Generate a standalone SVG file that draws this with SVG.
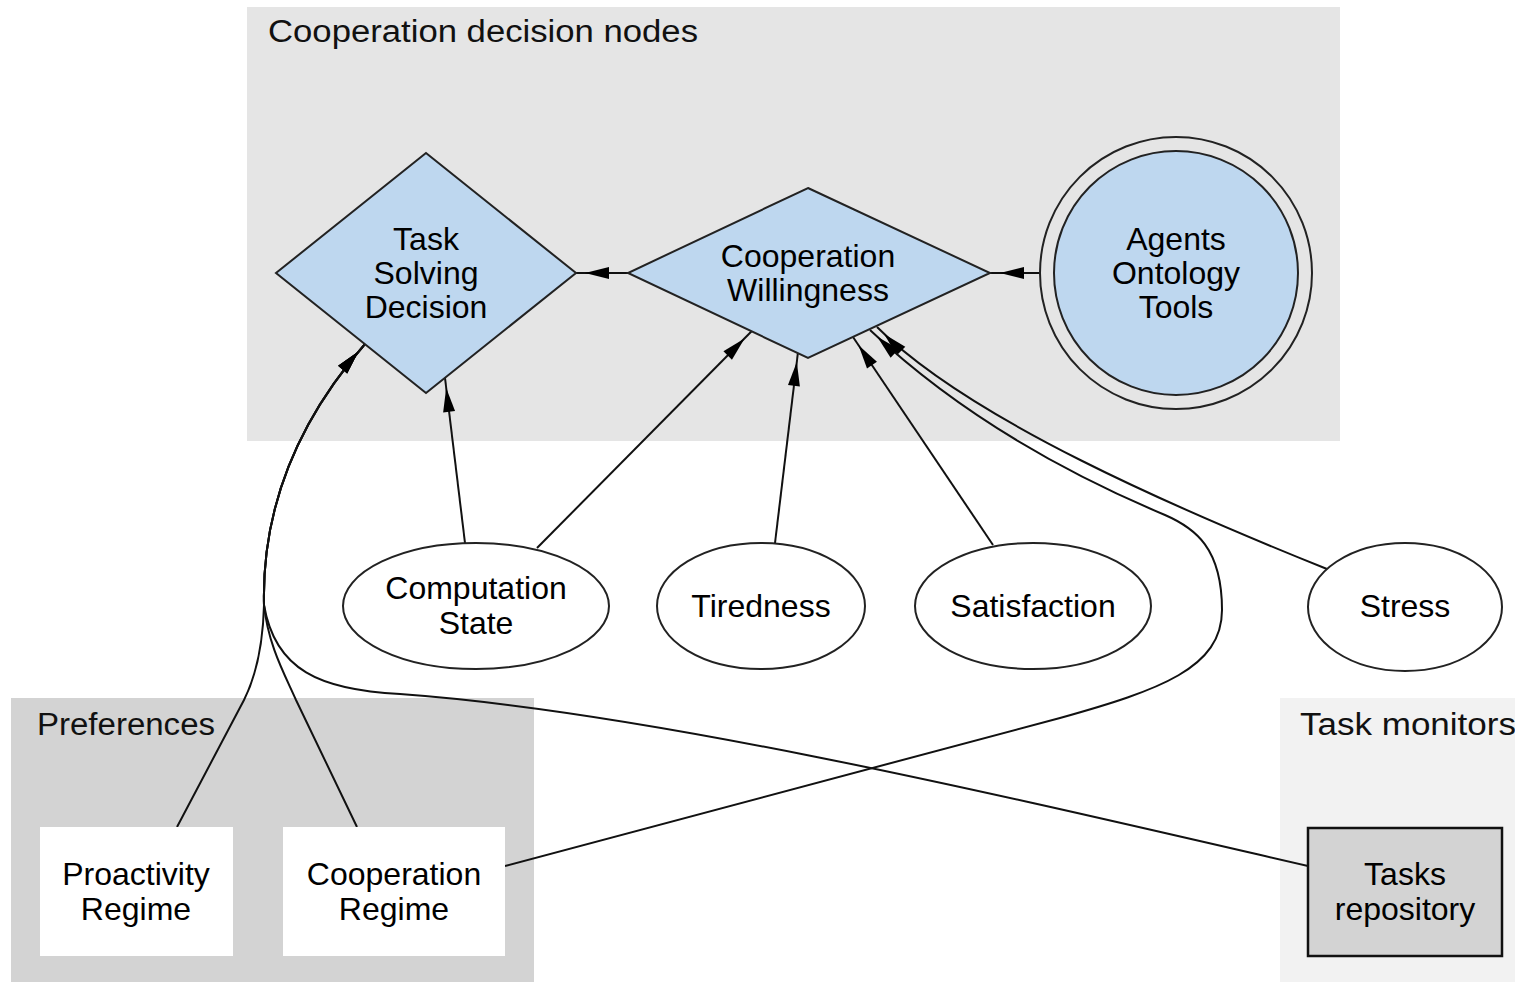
<svg xmlns="http://www.w3.org/2000/svg" width="1515" height="982" viewBox="0 0 1515 982">
  <style>
    .lbl { font-family: "Liberation Sans", Arial, sans-serif; font-size: 32px; fill: #000; text-anchor: middle; }
    .clbl { font-family: "Liberation Sans", Arial, sans-serif; font-size: 31px; fill: #111; }
    .dec { fill: #bed7ef; stroke: #222; stroke-width: 2; }
    .ell { fill: #fff; stroke: #222; stroke-width: 2; }
    .edge { fill: none; stroke: #111; stroke-width: 2; marker-end: url(#ah); }
  </style>
  <defs>
    <marker id="ah" viewBox="0 0 24 12" refX="34" refY="6" markerWidth="24" markerHeight="12" markerUnits="userSpaceOnUse" orient="auto" overflow="visible">
      <path d="M0,0 L24,6 L0,12 z" fill="#000"/>
    </marker>
  </defs>
  <rect width="1515" height="982" fill="#fff"/>

  <!-- clusters -->
  <g id="cluster-decision">
    <rect x="247" y="7" width="1093" height="434" fill="#e5e5e5"/>
    <text class="clbl" x="268" y="42" textLength="430" lengthAdjust="spacingAndGlyphs">Cooperation decision nodes</text>
  </g>
  <g id="cluster-preferences">
    <rect x="11" y="698" width="523" height="284" fill="#d3d3d3"/>
    <text class="clbl" x="37" y="735" textLength="178" lengthAdjust="spacingAndGlyphs">Preferences</text>
  </g>
  <g id="cluster-monitors">
    <rect x="1280" y="698" width="235" height="284" fill="#f2f2f2"/>
    <text class="clbl" x="1300" y="735" textLength="216" lengthAdjust="spacingAndGlyphs">Task monitors</text>
  </g>

  <!-- connectors -->
  <g id="edges">
    <path class="edge" d="M628,273 L575,273"/>
    <path class="edge" d="M1040,273 L990,273"/>
    <path class="edge" d="M465,543 L445,378"/>
    <path class="edge" d="M537,548 L751.6,331.3"/>
    <path class="edge" d="M775,543 L798,352"/>
    <path class="edge" d="M993,545 L853,337"/>
    <path class="edge" d="M1327,569 C1180,510 970,420 877,327"/>
    <path class="edge" d="M505,866 L1060,718 C1160,690 1222,668 1222,610 C1222,548 1195,528 1165,515 C1070,475 960,415 870,330"/>
    <path class="edge" d="M177,827 L244,700 C255,678 263,645 264,605 C262,520 290,430 365,344"/>
    <path class="edge" d="M357,827 L296,700 C285,675 268,645 264,605 C262,520 290,430 365,344"/>
    <path class="edge" d="M1308,866 C1000,795 650,712 400,694 C320,690 275,670 264,605 C262,520 290,430 365,344"/>
  </g>

  <!-- decision nodes -->
  <g id="task-solving-decision">
    <polygon class="dec" points="426,153 576,273 426,393 276,273"/>
    <text class="lbl" x="426" y="250">Task</text>
    <text class="lbl" x="426" y="284">Solving</text>
    <text class="lbl" x="426" y="318">Decision</text>
  </g>
  <g id="cooperation-willingness">
    <polygon class="dec" points="808,188 990,273 808,358 628,273"/>
    <text class="lbl" x="808" y="267">Cooperation</text>
    <text class="lbl" x="808" y="301">Willingness</text>
  </g>
  <g id="agents-ontology-tools">
    <circle cx="1176" cy="273" r="136" fill="none" stroke="#222" stroke-width="2"/>
    <circle cx="1176" cy="273" r="122" class="dec"/>
    <text class="lbl" x="1176" y="250">Agents</text>
    <text class="lbl" x="1176" y="284">Ontology</text>
    <text class="lbl" x="1176" y="318">Tools</text>
  </g>

  <!-- state nodes -->
  <g id="computation-state">
    <ellipse class="ell" cx="476" cy="606" rx="133" ry="63"/>
    <text class="lbl" x="476" y="599">Computation</text>
    <text class="lbl" x="476" y="634">State</text>
  </g>
  <g id="tiredness">
    <ellipse class="ell" cx="761" cy="606" rx="104" ry="63"/>
    <text class="lbl" x="761" y="617">Tiredness</text>
  </g>
  <g id="satisfaction">
    <ellipse class="ell" cx="1033" cy="606" rx="118" ry="63"/>
    <text class="lbl" x="1033" y="617">Satisfaction</text>
  </g>
  <g id="stress">
    <ellipse class="ell" cx="1405" cy="607" rx="97" ry="64"/>
    <text class="lbl" x="1405" y="617">Stress</text>
  </g>

  <!-- preference nodes -->
  <g id="proactivity-regime">
    <rect x="40" y="827" width="193" height="129" fill="#fff"/>
    <text class="lbl" x="136" y="885">Proactivity</text>
    <text class="lbl" x="136" y="920">Regime</text>
  </g>
  <g id="cooperation-regime">
    <rect x="283" y="827" width="222" height="129" fill="#fff"/>
    <text class="lbl" x="394" y="885">Cooperation</text>
    <text class="lbl" x="394" y="920">Regime</text>
  </g>

  <!-- monitor nodes -->
  <g id="tasks-repository">
    <rect x="1308" y="828" width="194" height="128" fill="#d3d3d3" stroke="#111" stroke-width="2.5"/>
    <text class="lbl" x="1405" y="885">Tasks</text>
    <text class="lbl" x="1405" y="920">repository</text>
  </g>
</svg>
